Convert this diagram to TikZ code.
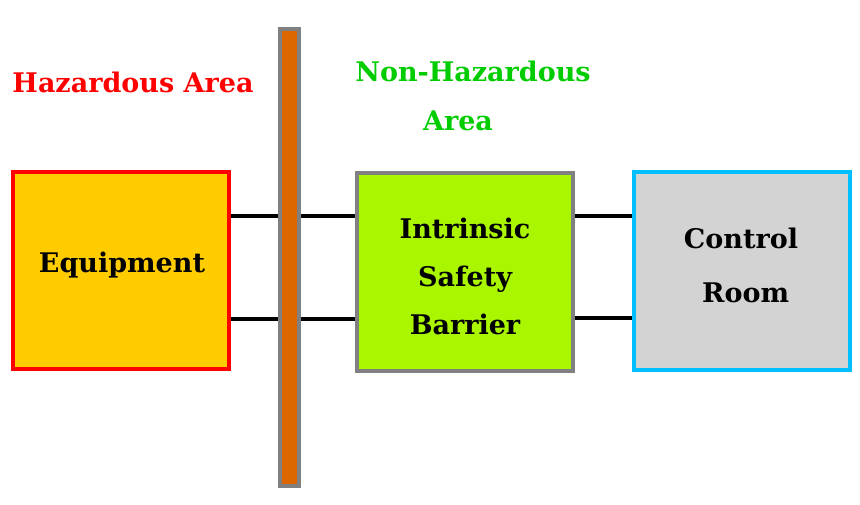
\documentclass[tikz,border=0pt]{standalone}
\usepackage{fontspec}
\setmainfont{DejaVu Serif}
\definecolor{barfill}{HTML}{DD6600}
\definecolor{bargray}{HTML}{808080}
\definecolor{eqfill}{HTML}{FFCC00}
\definecolor{isbfill}{HTML}{AAF500}
\definecolor{crfill}{HTML}{D3D3D3}
\definecolor{crline}{HTML}{00BFFF}
\definecolor{hazred}{HTML}{FF0000}
\definecolor{safegreen}{HTML}{00CC00}
\begin{document}
\begin{tikzpicture}[x=1pt,y=-1pt,
  box/.style={draw,line width=4pt,minimum width=216pt,minimum height=197pt,inner sep=0pt},
  txt/.style={font=\bfseries\fontsize{27}{48}\selectfont,align=center,inner sep=0pt},
  wire/.style={line width=3.6pt,draw=black}]
\useasboundingbox (0,0) rectangle (860,505);
\node[box,draw=hazred,fill=eqfill] (eq) at (121,270.5) {};
\node[box,draw=bargray,fill=isbfill] (isb) at (464.5,272) {};
\node[box,draw=crline,fill=crfill] (cr) at (741.5,271) {};
\node[draw=bargray,fill=barfill,line width=4pt,minimum width=19pt,minimum height=457pt,inner sep=0pt] (bar) at (289.5,257.5) {};
\node[txt] (eqt) at (122,265) {Equipment};
\node[txt] (isbt) at (465,276) {Intrinsic\\Safety\\Barrier};
\node[txt,font=\bfseries\fontsize{27}{54}\selectfont] (crt) at (741,265) {Control\\\ Room};
\node[txt,text=hazred] (haz) at (133,82) {Hazardous Area};
\node[txt,text=safegreen] (nonhaz) at (473,71) {Non-Hazardous};
\node[txt,text=safegreen] (area) at (458,121) {Area};
\draw[wire] (eq.east |- 0,216) -- (bar.west |- 0,216);
\draw[wire] (bar.east |- 0,216) -- (isb.west |- 0,216);
\draw[wire] (eq.east |- 0,319) -- (bar.west |- 0,319);
\draw[wire] (bar.east |- 0,319) -- (isb.west |- 0,319);
\draw[wire] (isb.east |- 0,216) -- (cr.west |- 0,216);
\draw[wire] (isb.east |- 0,318) -- (cr.west |- 0,318);
\end{tikzpicture}
\end{document}
